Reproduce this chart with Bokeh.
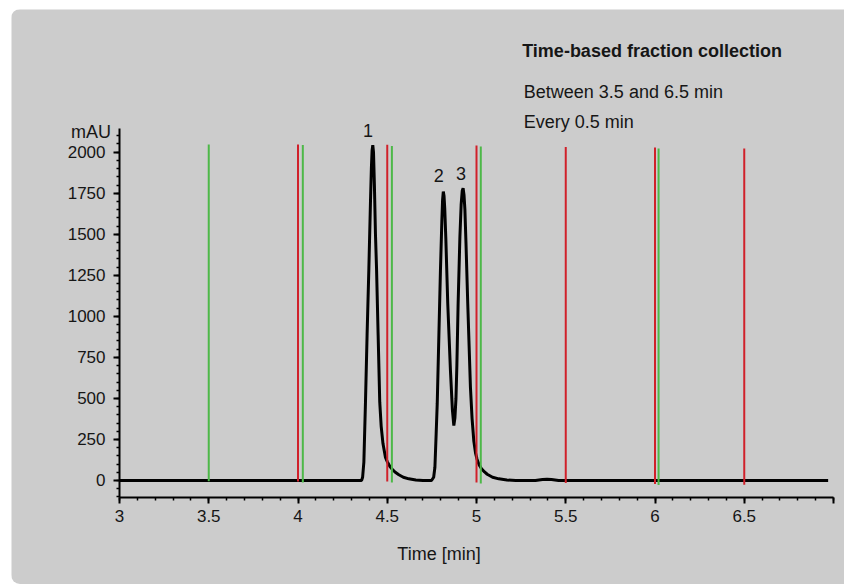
from bokeh.plotting import figure
from bokeh.models import Range1d, FixedTicker, Label
from bokeh.embed import file_html
from bokeh.resources import INLINE
import numpy as np

# ---- data ----
time_min = [3.0, 4.356, 4.362, 4.369, 4.378, 4.387, 4.397, 4.406, 4.411, 4.415, 4.419,
            4.423, 4.428, 4.434, 4.440, 4.449, 4.458, 4.466, 4.476, 4.490, 4.500, 4.515,
            4.528, 4.545, 4.565, 4.590, 4.621, 4.660, 4.700, 4.748, 4.760, 4.767, 4.774,
            4.780, 4.789, 4.798, 4.806, 4.810, 4.814, 4.818, 4.822, 4.828, 4.839, 4.854,
            4.865, 4.873, 4.879, 4.885, 4.890, 4.897, 4.907, 4.914, 4.920, 4.925, 4.930,
            4.935, 4.941, 4.951, 4.966, 4.975, 4.985, 4.995, 5.003, 5.015, 5.028, 5.045,
            5.060, 5.090, 5.125, 5.170, 5.220, 5.330, 5.370, 5.395, 5.420, 5.460, 6.970]
signal_mau = [0, 0, 20, 112, 477, 884, 1291, 1697, 1900, 2010, 2043,
              2000, 1800, 1500, 1291, 884, 477, 330, 225, 140, 115, 85,
              68, 50, 35, 20, 10, 3, 0, 0, 20, 81, 285,
              468, 874, 1280, 1585, 1710, 1760, 1735, 1660, 1480, 1077, 671,
              430, 335, 380, 500, 700, 1077, 1484, 1680, 1765, 1780, 1740,
              1650, 1450, 1077, 569, 380, 240, 165, 130, 95, 72, 52,
              38, 20, 10, 3, 0, 0, 6, 8, 6, 0, 0]

red_x = [4.0, 4.5, 5.0, 5.5, 6.0, 6.5]
red_top = [2047, 2045, 2041, 2032, 2029, 2023]
red_bottom = [-6, -6, -12, -16, -22, -26]
green_x = [3.5, 4.027, 4.526, 5.024, 6.02]
green_top = [2047, 2044, 2037, 2035, 2023]
green_bottom = [-5, -12, -12, -18, -28]

peak_labels = ["1", "2", "3"]
peak_label_x = [4.392, 4.789, 4.913]
peak_label_y = [2132, 1858, 1872]

x_ticks = [3, 3.5, 4, 4.5, 5, 5.5, 6, 6.5, 7]
x_tick_labels = ["3", "3.5", "4", "4.5", "5", "5.5", "6", "6.5", ""]
y_ticks = [0, 250, 500, 750, 1000, 1250, 1500, 1750, 2000]

title_text = "Time-based fraction collection"
info_lines = ["Between 3.5 and 6.5 min", "Every 0.5 min"]
y_unit = "mAU"
x_title = "Time [min]"

# axis extents (data units)
X_LO, X_HI = 3, 7
Y_LO, Y_HI = -105, 2142

FONT = "Liberation Sans"
TXT = "#161616"
BG = "#cccccc"

# frame covers the whole canvas; axes are placed with fixed_location
p = figure(width=833, height=575,
           x_range=Range1d(2.39496, 7.06162), y_range=Range1d(-633.6, 2869.3),
           output_backend="svg", toolbar_location=None,
           min_border_left=0, min_border_right=0,
           min_border_top=0, min_border_bottom=0,
           background_fill_color=BG, border_fill_color=BG,
           outline_line_color=None)
p.margin = (9, 0, 0, 11)
p.styles = {"border-radius": "9px 0 0 9px", "overflow": "hidden"}

p.grid.visible = False

p.line(time_min, signal_mau, line_color="black", line_width=3)
p.segment(x0=red_x, x1=red_x, y0=red_bottom, y1=red_top,
          line_color="#d0202a", line_width=2)
p.segment(x0=green_x, x1=green_x, y0=green_bottom, y1=green_top,
          line_color="#4db848", line_width=2)

xa = p.xaxis[0]
xa.ticker = FixedTicker(ticks=x_ticks, minor_ticks=list(np.round(np.arange(3, 7.001, 0.1), 2)))
xa.major_label_overrides = {t: l for t, l in zip(x_ticks, x_tick_labels)}
xa.fixed_location = Y_LO
xa.bounds = (X_LO, X_HI)
ya = p.yaxis[0]
ya.ticker = FixedTicker(ticks=y_ticks, minor_ticks=list(np.arange(-100, 2101, 50)))
ya.fixed_location = X_LO
ya.bounds = (Y_LO, Y_HI)

for ax in (xa, ya):
    ax.axis_line_color = "black"
    ax.axis_line_width = 2
    ax.major_tick_line_color = "black"
    ax.major_tick_line_width = 2
    ax.minor_tick_line_color = "black"
    ax.minor_tick_line_width = 1.5
    ax.major_tick_in = 0
    ax.minor_tick_in = 0
    ax.major_tick_out = 6
    ax.minor_tick_out = 3
    ax.major_label_text_font = FONT
    ax.major_label_text_font_size = "17px"
    ax.major_label_text_color = TXT
xa.major_label_standoff = 6
ya.major_label_standoff = 8

def lab(x, y, t, align="left", bold=False):
    p.add_layout(Label(x=x, y=y, text=t,
                       text_font=FONT, text_font_size="18px",
                       text_color=TXT, text_align=align, text_baseline="alphabetic",
                       text_font_style="bold" if bold else "normal"))

lab(5.256, 2619, title_text, bold=True)
lab(5.265, 2365, info_lines[0])
lab(5.265, 2183, info_lines[1])
lab(2.952, 2122, y_unit, align="right")
lab(4.79, -446, x_title, align="center")
for t, x, y in zip(peak_labels, peak_label_x, peak_label_y):
    lab(x, y, t, align="center")

open("out.html", "w").write(file_html(p, INLINE))
